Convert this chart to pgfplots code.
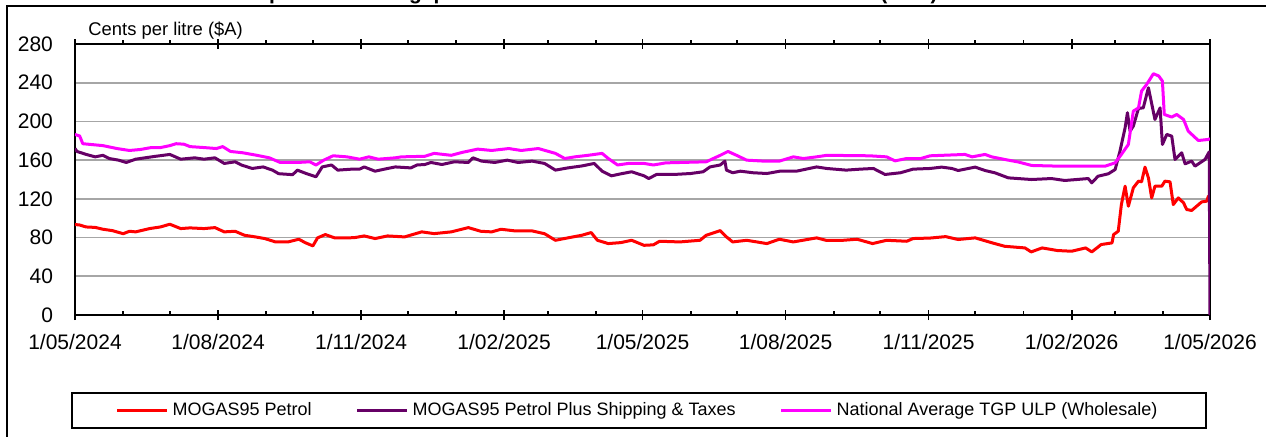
\documentclass[border=0pt]{standalone}
\usepackage{fontspec}
\setmainfont{Liberation Sans}
\usepackage{pgfplots}
\pgfplotsset{compat=1.18}
\usepackage{pgfplotstable}
\definecolor{cred}{RGB}{255,0,0}
\definecolor{cpurple}{RGB}{102,0,102}
\definecolor{cmag}{RGB}{255,0,255}
\definecolor{cgrid}{RGB}{166,166,166}

% day = days since 1/05/2024, value in cents per litre
\pgfplotstableread{
day val
0 93.5
3 93
7 91
13 90.5
18 88.6
24 87.2
31 84
35 86.5
39 85.9
48 89.3
55 91
61 93.8
68 89.3
74 90
83 89.3
90 90.3
96 85.9
103 86.5
109 82.4
116 80.7
122 79
129 75.5
137 75.5
144 78.3
148 74.8
153 71.4
156 79.7
161 83.1
167 79.7
176 79.7
180 80
186 81.7
193 79
201 81.7
212 80.7
223 85.9
231 84.1
242 85.9
253 90.3
261 86.5
268 85.9
274 88.6
283 86.9
294 86.9
302 84
309 77.2
317 79.7
326 82.4
332 85.2
336 77.2
343 73.8
351 74.8
358 77.2
366 72
372 72.5
376 76.2
389 75.5
402 77.2
406 82.4
415 87.2
419 80.7
423 75.5
432 77.2
445 73.8
453 78.3
462 75.5
477 79.7
483 77.2
494 77.2
503 78.3
513 73.8
522 77.2
535 76.2
539 79
550 79.5
560 81
568 78
579 79.7
590 74.5
598 71
611 69.3
615 65.2
622 69.3
632 66.6
641 65.9
650 69.3
654 65.2
660 72.8
667 74.5
668 83.1
671 86.6
673 114.1
675.4 133.1
677.5 112.4
680.7 131.4
684 138.3
686 137.6
688.2 152.8
690.4 141.7
692.5 121
694.6 133.1
699 133.1
701 138.3
704.3 137.6
706.4 114.1
709.6 121
713 115.9
715 109
718.2 108
724.7 116.9
727.9 117.6
729 122.8
730 119.3
}\redtab

\pgfplotstableread{
day val
0 172
1.3 169
7 166
13 163.4
18 165
22 161.7
28 160
33 157.6
39 161
45 162.4
52 164
61 165.9
68 161
77 162.4
83 161
90 162.4
96 156.6
103 158.3
107 155
114 151.4
121 153
127 149.7
131 146
140 145
143 149.7
149 146
155 142.8
159 153
165 155
169 149.7
178 150.7
183 150.7
186 153
193 148.6
199 150.7
206 153
216 152
220 155
225 155.5
229 157.6
236 155.5
244 158.3
253 157.6
256 162.4
261.5 159
270 157.6
278 160
285 157.6
294 159
302 156.6
309 149.7
317 152
326 154
334 156.6
339 148.6
345 143.8
351.5 146
358 148
366 143.8
369 141
374 145.2
385 145.2
396 146.2
404 148
408.4 153
415 155
418 159
419 149.7
423 147
428 148.6
436 147
445 146.2
453.4 148.6
464 148.6
477 153
483.5 151.4
496 149.7
505 150.7
513.5 151.4
521 145.2
531 147
539 150.7
550 151.4
557.4 152.8
564 151.4
568 149.3
579 152.8
585.3 149.3
591.7 146.9
600.3 141.7
615.3 140
628 141
636.7 139
651.7 141
654 136.6
658 143.4
664.6 145.9
669 150.3
672.1 169.3
675.4 193.4
676.9 209
678.6 190
680.7 195.2
684 213.4
687.1 214.1
690.4 234.8
694.6 202
697.9 214
699.4 176.2
702.2 186.6
705.4 184.8
707.5 160.7
711.8 167.6
714 156.2
718.2 159
720.4 153.8
726.8 160.7
729.5 168.6
730 0
}\purpletab

\pgfplotstableread{
day val
0 186.5
3 185
5 177
18 175
27 172
35 170
42 171
49 173
55 173
61 175
65 177
70 176.5
74 174
83 173
91 172
95 174
100 169
108 167.6
117 165
125 162.4
132 157.6
143 157.6
151 158.3
155 155
160 160
166 164.5
175 163.4
183 161
189 163.4
195 161
206 162.4
210 163.4
225 164
231 167
242 165
249 168
259 171.4
268 170
279 172
287 170
298 172
309 167
315 161.7
321.5 163.4
330 165
339 167
343 161.7
349 155
356 156.6
366 156.6
372 155
380 157.2
406 158.3
415 165
420 169
425.5 165
432 160
443 159
453 159
462 163.4
468.5 161.7
477 163.4
483.5 165
511 164.5
522 163.4
527.4 159.3
535 161.7
544 161.7
550 164.5
572.4 165.9
577 163.4
585.3 165.9
589.6 163.4
598 160.7
607 158
615.3 154.5
632.5 153.8
662.5 153.8
669 157.2
673 165.9
677.5 176.2
680.7 210.7
684 214
686 231.4
689.3 238.3
693.6 249.3
697 247
699.4 241.7
700.6 207.2
705.4 204.5
708.6 207.2
713 202
716 190
722.5 180.3
729 181.4
730 182.4
}\magtab

\begin{document}
\begin{tikzpicture}
\path[use as bounding box] (0,0) rectangle (633pt,218pt);
\draw[line width=1pt] (3.5pt,-2pt) -- (3.5pt,215pt) -- (640pt,215pt);
\node[font=\bfseries\fontsize{10.5}{12}\selectfont, anchor=base] at (290pt,218.2pt) {Comparison of Singapore Petrol and Australian Wholesale Prices (TGP)};
\node[anchor=west, font=\fontsize{9.2}{11}\selectfont, inner sep=0pt] at (44pt,202.5pt) {Cents per litre (\$A)};
\begin{axis}[
  at={(37.5pt,60.5pt)}, anchor=south west,
  scale only axis, width=567.5pt, height=135.5pt,
  xmin=0, xmax=730, ymin=0, ymax=280,
  xtick={0,92,184,276,365,457,549,641,730},
  xticklabels={1/05/2024,1/08/2024,1/11/2024,1/02/2025,1/05/2025,1/08/2025,1/11/2025,1/02/2026,1/05/2026},
  minor xtick={31,61,123,153,214,245,304,335,396,426,488,518,579,610,669,700},
  ytick={0,40,...,280},
  ymajorgrids, grid style={cgrid, line width=0.8pt},
  axis line style={line width=1pt},
  tick align=center,
  major tick length=5pt, minor tick length=2pt,
  major x tick style={black, line width=0.9pt},
  minor x tick style={black, line width=0.9pt, yshift=1pt},
  ytick style={draw=none},
  /pgf/number format/assume math mode=true,
  ticklabel style={font=\fontsize{10.5}{12}\selectfont},
  yticklabel style={xshift=-5pt},
  xticklabel style={yshift=-3.5pt},
  legend style={at={(0.4965,-0.3524)}, anchor=center, draw=black, line width=1pt,
    legend columns=3, font=\fontsize{9}{11}\selectfont,
    /tikz/every even column/.append style={column sep=20pt},
    inner xsep=22pt, inner ysep=2.5pt},
  legend cell align=left,
  legend image code/.code={\draw[#1, line width=1.5pt] (0pt,0pt) -- (25pt,0pt);},
]
\addplot[cred, line width=1.5pt, line join=round] table[x=day,y=val] {\redtab};
\addlegendentry{MOGAS95 Petrol}
\addplot[cpurple, line width=1.5pt, line join=round] table[x=day,y=val] {\purpletab};
\addlegendentry{MOGAS95 Petrol Plus Shipping \& Taxes}
\addplot[cmag, line width=1.5pt, line join=round] table[x=day,y=val] {\magtab};
\addlegendentry{National Average TGP ULP (Wholesale)}
\end{axis}
\end{tikzpicture}
\end{document}
